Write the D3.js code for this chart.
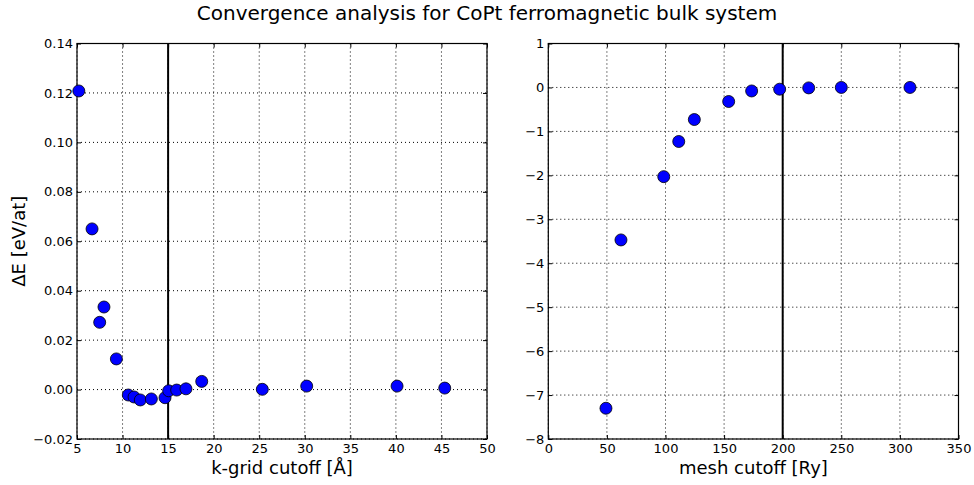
<!DOCTYPE html>
<html>
<head>
<meta charset="utf-8">
<script src="https://cdn.jsdelivr.net/npm/d3@7"></script>
<style>
  body { margin: 0; background: #fff; }
  svg { font-family: "DejaVu Sans", sans-serif; }
</style>
</head>
<body>
<svg id="chart" width="974" height="485"></svg>
<script>
// k-grid convergence (left panel)
var kCutoff = [5.2, 6.65, 7.49, 7.96, 9.32, 10.63, 11.26, 11.95, 13.16, 14.66, 15.06, 15.94, 16.96, 18.69, 25.34, 30.21, 40.13, 45.36];
var kDeltaE = [0.1208, 0.0650, 0.0272, 0.0334, 0.0124, -0.0022, -0.0030, -0.0042, -0.0038, -0.0033, -0.0005, -0.0002, 0.0003, 0.0033, 0.0001, 0.0014, 0.0014, 0.0006];
var kXTicks = [5, 10, 15, 20, 25, 30, 35, 40, 45, 50];
var kYTicks = [-0.02, 0, 0.02, 0.04, 0.06, 0.08, 0.10, 0.12, 0.14];
var kChosen = 15;

// mesh cutoff convergence (right panel)
var meshCutoff = [49.2, 62.0, 98.5, 111.3, 124.6, 153.9, 173.5, 197.4, 222.2, 250.0, 308.6];
var meshDeltaE = [-7.30, -3.47, -2.03, -1.23, -0.73, -0.32, -0.08, -0.04, -0.01, 0.0, 0.0];
var meshXTicks = [0, 50, 100, 150, 200, 250, 300, 350];
var meshYTicks = [-8, -7, -6, -5, -4, -3, -2, -1, 0, 1];
var meshChosen = 200;

var svg = d3.select('#chart');
// plot area vertical extent (shared by both panels)
var plotTop = 43.5, plotBottom = 439;

var fmtMinus = function (f) {
  return function (d) { return f(d).replace('-', '\u2212'); };
};

svg.append('text')
  .attr('x', 487).attr('y', 20)
  .attr('text-anchor', 'middle')
  .attr('font-size', 20)
  .text('Convergence analysis for CoPt ferromagnetic bulk system');

function drawPanel(left, right, xs, ys, xDomain, yDomain, xTicks, yTicks, yFmt, vline, xLabel, yLabel) {
  var x = d3.scaleLinear().domain(xDomain).range([left, right]);
  var y = d3.scaleLinear().domain(yDomain).range([plotBottom, plotTop]);
  var g = svg.append('g');

  // dotted grid
  g.selectAll('.gx').data(xTicks).enter().append('line')
    .attr('x1', function (d) { return x(d); }).attr('x2', function (d) { return x(d); })
    .attr('y1', plotTop).attr('y2', plotBottom)
    .attr('stroke', '#000').attr('stroke-width', 1).attr('stroke-dasharray', '1,3');
  g.selectAll('.gy').data(yTicks).enter().append('line')
    .attr('y1', function (d) { return y(d); }).attr('y2', function (d) { return y(d); })
    .attr('x1', left).attr('x2', right)
    .attr('stroke', '#000').attr('stroke-width', 1).attr('stroke-dasharray', '1,3');

  // axes with inward ticks, on all four sides
  var axB = d3.axisBottom(x).tickValues(xTicks).tickSizeInner(-4).tickSizeOuter(0).tickPadding(5);
  var axT = d3.axisTop(x).tickValues(xTicks).tickSizeInner(-4).tickSizeOuter(0).tickFormat('');
  var axL = d3.axisLeft(y).tickValues(yTicks).tickSizeInner(-4).tickSizeOuter(0).tickPadding(4).tickFormat(yFmt);
  var axR = d3.axisRight(y).tickValues(yTicks).tickSizeInner(-4).tickSizeOuter(0).tickFormat('');

  [[axB, 'translate(0,' + plotBottom + ')'], [axT, 'translate(0,' + plotTop + ')'],
   [axL, 'translate(' + left + ',0)'], [axR, 'translate(' + right + ',0)']].forEach(function (a) {
    var ag = g.append('g').attr('transform', a[1]).call(a[0]);
    ag.select('.domain').remove();
    ag.selectAll('line').attr('stroke', '#000');
    ag.selectAll('text').attr('font-size', 13).attr('fill', '#000')
      .attr('font-family', '"DejaVu Sans", sans-serif');
  });

  // chosen cutoff marker
  g.append('line')
    .attr('x1', x(vline)).attr('x2', x(vline))
    .attr('y1', plotTop).attr('y2', plotBottom)
    .attr('stroke', '#000').attr('stroke-width', 2);

  // frame
  g.append('rect')
    .attr('x', left).attr('y', plotTop)
    .attr('width', right - left).attr('height', plotBottom - plotTop)
    .attr('fill', 'none').attr('stroke', '#000').attr('stroke-width', 1.2);

  // points
  g.selectAll('circle').data(xs).enter().append('circle')
    .attr('cx', function (d) { return x(d); })
    .attr('cy', function (d, i) { return y(ys[i]); })
    .attr('r', 6)
    .attr('fill', '#0000ff').attr('stroke', '#000').attr('stroke-width', 0.8);

  g.append('text')
    .attr('x', (left + right) / 2).attr('y', 474)
    .attr('text-anchor', 'middle').attr('font-size', 18)
    .text(xLabel);

  if (yLabel) {
    g.append('text')
      .attr('transform', 'translate(25,' + ((plotTop + plotBottom) / 2) + ') rotate(-90)')
      .attr('text-anchor', 'middle').attr('font-size', 18)
      .text(yLabel);
  }
}

drawPanel(77, 487, kCutoff, kDeltaE, [5, 50], [-0.02, 0.14], kXTicks, kYTicks,
  fmtMinus(d3.format('.2f')), kChosen, 'k-grid cutoff [\u00c5]', '\u0394E [eV/at]');
drawPanel(548.3, 958.5, meshCutoff, meshDeltaE, [0, 350], [-8, 1], meshXTicks, meshYTicks,
  fmtMinus(d3.format('d')), meshChosen, 'mesh cutoff [Ry]', null);
</script>
</body>
</html>
